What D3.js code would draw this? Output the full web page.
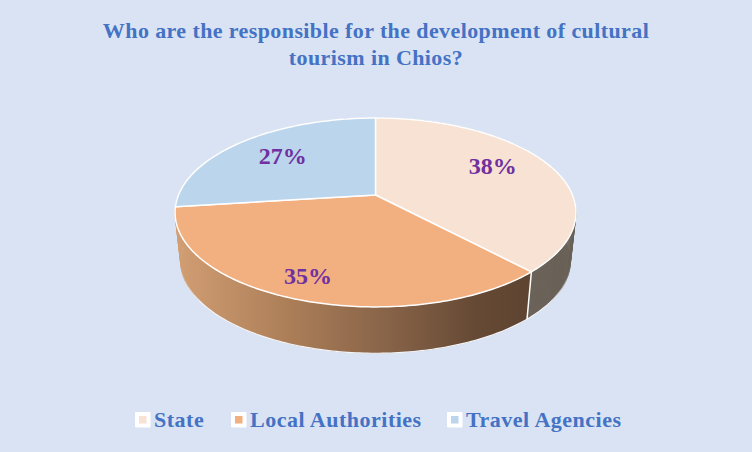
<!DOCTYPE html>
<html lang="en">
  <head>
    <meta charset="utf-8">
    <title>Who are the responsible for the development of cultural tourism in Chios?</title>
    <script src="https://cdnjs.cloudflare.com/ajax/libs/d3/7.8.5/d3.min.js"></script>
    <style>
      html, body { margin: 0; padding: 0; background: #DAE3F3; overflow: hidden; }
      svg { display: block; }
      text { font-family: "Liberation Serif", serif; font-weight: bold; }
      .title { font-size: 22px; fill: #4472C4; letter-spacing: 0.4px; text-anchor: middle; }
      .legend text { font-size: 22px; fill: #4472C4; letter-spacing: 0.5px; }
      .pct { font-size: 24px; fill: #7030A0; text-anchor: middle; }
    </style>
  </head>
  <body>
    <div id="chartDiv"></div>
    <script>
      var categories = ["State", "Local Authorities", "Travel Agencies"];
      var values = [38, 35, 27];
      var titleLines = ["Who are the responsible for the development of cultural", "tourism in Chios?"];

      var colors = ["#F7E2D3", "#F2AF80", "#BBD5EC"];
      var wd = 752, ht = 452;

      // the tilted disc: a circle seen in perspective, so the centre sits above the ellipse middle
      var cx = 375.5, cy = 195, rx = 197, ry = 91.2, persp = 0.185;
      var wallShrink = 0.972, wallTop = 244.5;

      var project = function(a, f, y0, s) {
        var u = Math.sin(a) * f, v = Math.cos(a) * f;
        var w = 1 + persp * v;
        return [cx + s * rx * u / w, y0 - s * ry * v / w];
      };
      var topPt = function(a, f) { return project(a, f === undefined ? 1 : f, cy, 1); };
      var lowPt = function(a) { return project(a, 1, wallTop, wallShrink); };

      var arcAngles = function(a0, a1) {
        var n = Math.ceil((a1 - a0) * 60);
        return d3.range(n + 1).map(function(i) { return a0 + (a1 - a0) * i / n; });
      };

      var pie = d3.pie().sort(null).value(function(d) { return d; });
      var slices = pie(values);
      var line = d3.line().curve(d3.curveLinear);

      var svg = d3.select("#chartDiv").append("svg")
        .attr("width", wd).attr("height", ht);

      var defs = svg.append("defs");
      var grad = defs.append("linearGradient").attr("id", "localWall")
        .attr("gradientUnits", "userSpaceOnUse")
        .attr("x1", 176).attr("x2", 530).attr("y1", 0).attr("y2", 0);
      grad.selectAll("stop")
        .data([[0, "#D29E74"], [0.3, "#AE8059"], [0.6, "#876348"], [0.85, "#654934"], [1, "#5E4431"]])
        .enter().append("stop")
        .attr("offset", function(d) { return d[0]; })
        .attr("stop-color", function(d) { return d[1]; });

      // rim fades out at both ends so it doesn't nick the side of the wall
      var rimGrad = defs.append("linearGradient").attr("id", "rimFade")
        .attr("gradientUnits", "userSpaceOnUse")
        .attr("x1", 181).attr("x2", 570).attr("y1", 0).attr("y2", 0);
      rimGrad.selectAll("stop")
        .data([[0, 0], [0.05, 1], [0.95, 1], [1, 0]])
        .enter().append("stop")
        .attr("offset", function(d) { return d[0]; })
        .attr("stop-color", "#F2F5FA")
        .attr("stop-opacity", function(d) { return d[1]; });

      var wallFill = ["#6B6258", "url(#localWall)", "#8E9FB0"];

      // wall as a strip of small quads, so the sides reach the tangent between both rims
      var wallPath = function(d) {
        var as = arcAngles(d.startAngle, d.endAngle);
        return as.slice(1).map(function(a, i) {
          return line([topPt(as[i]), topPt(a), lowPt(a), lowPt(as[i])]) + "Z";
        }).join("");
      };

      svg.selectAll("path.wall")
        .data([slices[2], slices[0], slices[1]])
        .enter().append("path")
        .attr("class", "wall")
        .attr("d", wallPath)
        .attr("fill", function(d) { return wallFill[d.index]; })
        .attr("stroke", function(d) { return wallFill[d.index]; })
        .attr("stroke-width", 0.4);

      // white rim along the bottom of the wall and at the seam
      var frontAngles = arcAngles(slices[0].startAngle + 1.75, slices[1].endAngle + 0.1);
      svg.append("path")
        .attr("d", line(frontAngles.map(lowPt)))
        .attr("fill", "none").attr("stroke", "url(#rimFade)").attr("stroke-width", 1.2);
      svg.append("path")
        .attr("d", line([topPt(slices[0].endAngle), lowPt(slices[0].endAngle)]))
        .attr("fill", "none").attr("stroke", "#FFFFFF").attr("stroke-width", 1.5);

      svg.selectAll("path.top")
        .data(slices)
        .enter().append("path")
        .attr("class", "top")
        .attr("d", function(d) {
          var pts = arcAngles(d.startAngle, d.endAngle).map(function(a) { return topPt(a); });
          return line([[cx, cy]].concat(pts)) + "Z";
        })
        .attr("fill", function(d) { return colors[d.index]; })
        .attr("stroke", "#FFFFFF")
        .attr("stroke-width", 1.5)
        .attr("stroke-linejoin", "round");

      // best-fit label spots, radial fraction and a small lift
      var labelFrac = [0.67, 0.86, 0.68];
      var labelLift = [6, 5, 0];

      svg.selectAll("text.pct")
        .data(slices)
        .enter().append("text")
        .attr("class", "pct")
        .attr("x", function(d, i) { return topPt((d.startAngle + d.endAngle) / 2, labelFrac[i])[0]; })
        .attr("y", function(d, i) { return topPt((d.startAngle + d.endAngle) / 2, labelFrac[i])[1] - labelLift[i] + 7; })
        .text(function(d) { return d.value + "%"; });

      svg.selectAll("text.title")
        .data(titleLines)
        .enter().append("text")
        .attr("class", "title")
        .attr("x", 376)
        .attr("y", function(d, i) { return 38 + i * 26.5; })
        .text(function(d) { return d; });

      var legendX = d3.scaleOrdinal().domain(categories).range([135, 231, 447]);
      var legend = svg.selectAll("g.legend")
        .data(categories)
        .enter().append("g")
        .attr("class", "legend")
        .attr("transform", function(d) { return "translate(" + legendX(d) + ",412)"; });
      legend.append("rect")
        .attr("width", 15.5).attr("height", 15.5).attr("rx", 1).attr("fill", "#FFFFFF");
      legend.append("rect")
        .attr("x", 4).attr("y", 4).attr("width", 7.5).attr("height", 7.5)
        .attr("fill", function(d, i) { return colors[i]; });
      legend.append("text")
        .attr("x", 19)
        .attr("y", 15)
        .text(function(d) { return d; });
    </script>
  </body>
</html>
